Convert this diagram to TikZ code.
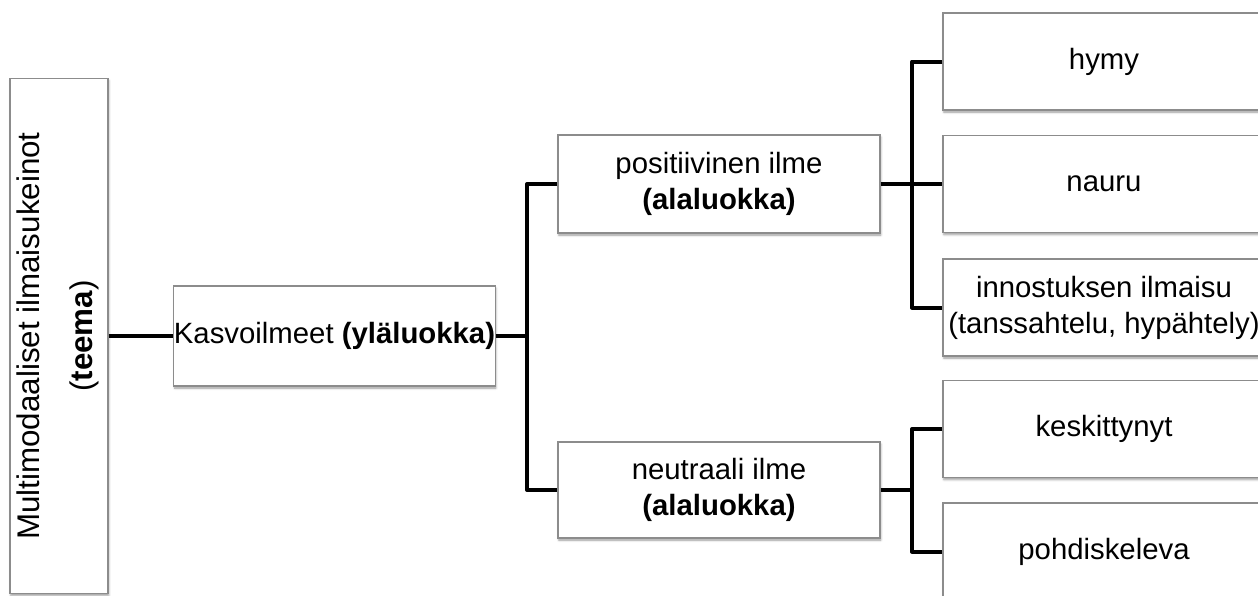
\documentclass[tikz,border=0pt]{standalone}
\usepackage{fontspec}
\setmainfont{Liberation Sans}
\usetikzlibrary{shadows.blur}

\begin{document}
\begin{tikzpicture}[x=0.75pt,y=-0.75pt,
    catbox/.style={draw=black!45,line width=0.8pt,fill=white,inner sep=0pt,align=center,
      minimum width=241.5pt,minimum height=72.75pt,
      blur shadow={shadow xshift=0.6pt,shadow yshift=-1.6pt,shadow blur radius=1.6pt,shadow opacity=40},
      font=\fontsize{22}{27}\selectfont},
    conn/.style={line width=3pt,line join=round}]
    \clip (0,0) rectangle (1258,596);

    \node[catbox,minimum width=73.5pt,minimum height=386.25pt,font=\fontsize{23.5}{27}\selectfont] (teema) at (59,336)
      {\rotatebox{90}{\begin{tabular}{@{}c@{}}Multimodaaliset ilmaisukeinot\\[13pt](\textbf{teema})\end{tabular}}};
    \node[catbox,minimum width=240.75pt,minimum height=75pt] (kasvo) at (334.5,336) {Kasvoilmeet \textbf{(yläluokka)}};

    \node[catbox,minimum height=73.5pt] (posit) at (719,184) {positiivinen ilme\\\textbf{(alaluokka)}};
    \node[catbox,minimum height=72pt] (neutr) at (719,490) {neutraali ilme\\\textbf{(alaluokka)}};

    \node[catbox] (hymy) at (1104,61.5) {hymy};
    \node[catbox] (nauru) at (1104,184) {nauru};
    \node[catbox] (innost) at (1104,307.5) {innostuksen ilmaisu\\(tanssahtelu, hypähtely)};
    \node[catbox] (kesk) at (1104,429) {keskittynyt};
    \node[catbox] (pohd) at (1104,551.5) {pohdiskeleva};

    % branch points
    \coordinate (j1) at (527,336);
    \coordinate (j2) at (912,184);
    \coordinate (j3) at (912,490);

    \foreach \from/\to in {teema/kasvo,kasvo/j1,posit/nauru,neutr/j3}
    \draw[conn] (\from)--(\to);

    \draw[conn] (posit) -| (j1) |- (neutr);
    \draw[conn] (hymy) -| (j2) |- (innost);
    \draw[conn] (kesk) -| (j3) |- (pohd);

\end{tikzpicture}
\end{document}
